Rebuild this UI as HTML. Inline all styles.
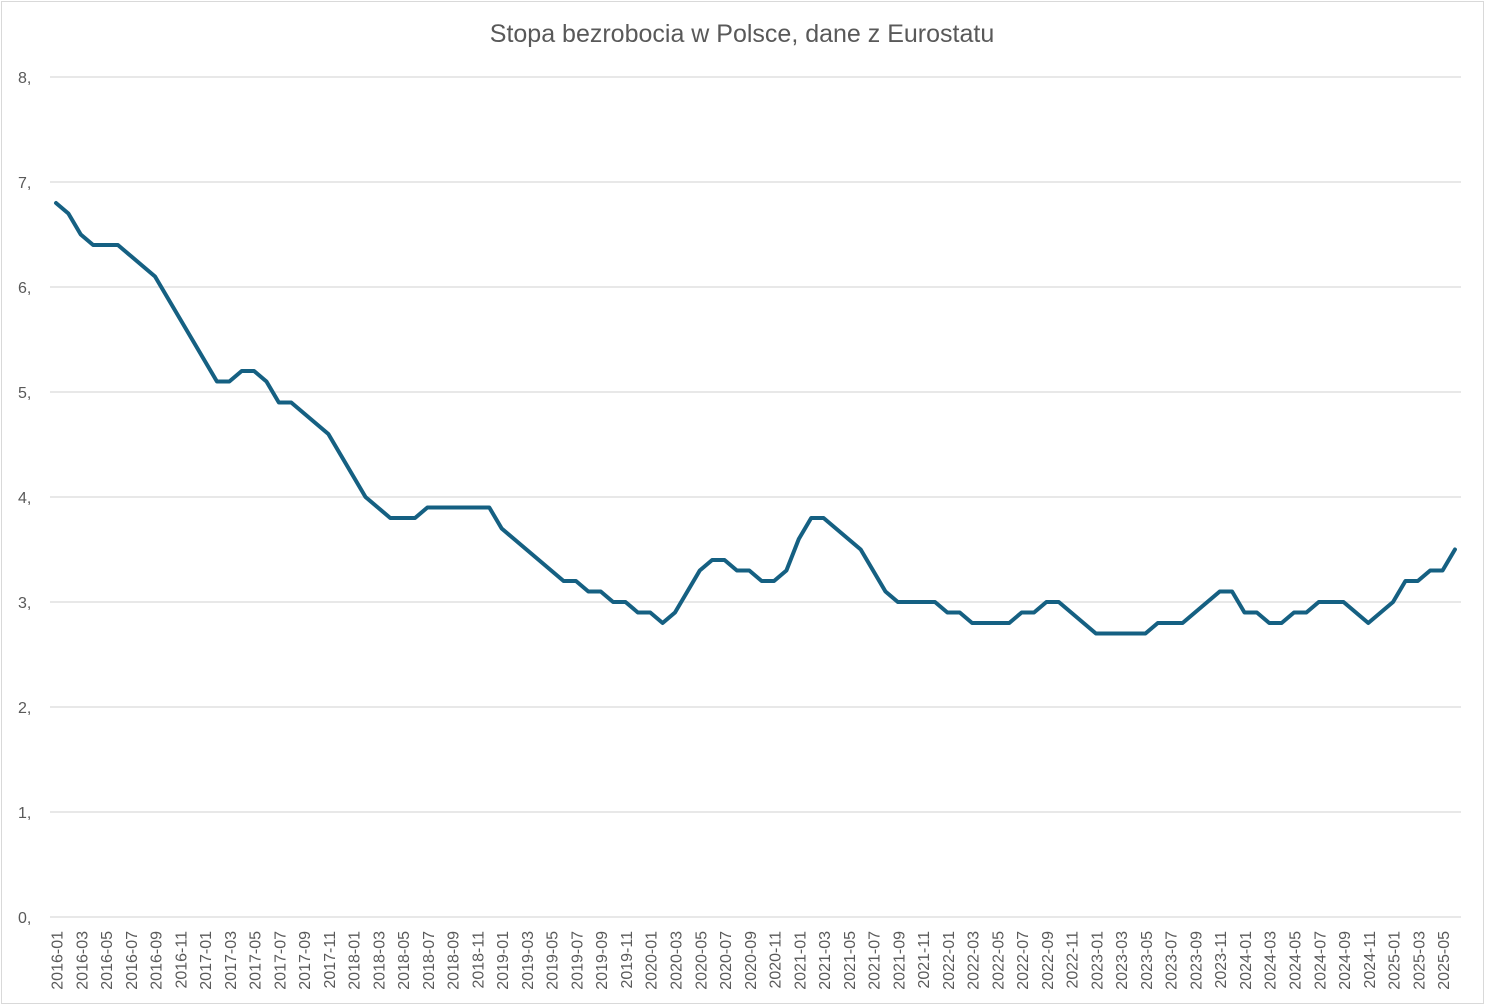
<!DOCTYPE html>
<html><head><meta charset="utf-8"><style>
html,body{margin:0;padding:0;background:#fff}
svg{display:block}
text{font-family:"Liberation Sans",sans-serif;fill:#595959}
</style></head><body>
<svg width="1485" height="1006" viewBox="0 0 1485 1006">
<rect x="1.5" y="1.5" width="1482" height="1002" fill="#fff" stroke="#d9d9d9" stroke-width="1"/>
<text x="742" y="42" font-size="25" text-anchor="middle">Stopa bezrobocia w Polsce, dane z Eurostatu</text>
<g stroke="#d9d9d9" stroke-width="1.3">
<line x1="50" x2="1461" y1="77" y2="77"/><line x1="50" x2="1461" y1="182" y2="182"/>
<line x1="50" x2="1461" y1="287" y2="287"/><line x1="50" x2="1461" y1="392" y2="392"/>
<line x1="50" x2="1461" y1="497" y2="497"/><line x1="50" x2="1461" y1="602" y2="602"/>
<line x1="50" x2="1461" y1="707" y2="707"/><line x1="50" x2="1461" y1="812" y2="812"/>
<line x1="50" x2="1461" y1="917" y2="917"/>
</g>
<g font-size="16">
<text x="18" y="83">8,</text><text x="18" y="188">7,</text><text x="18" y="293">6,</text>
<text x="18" y="398">5,</text><text x="18" y="503">4,</text><text x="18" y="608">3,</text>
<text x="18" y="713">2,</text><text x="18" y="818">1,</text><text x="18" y="923">0,</text>
</g>
<g transform="translate(56,917) scale(12.38,-105)">
<polyline fill="none" stroke="#156082" stroke-width="4" stroke-linejoin="round" stroke-linecap="round" vector-effect="non-scaling-stroke" points="0,6.8 1,6.7 2,6.5 3,6.4 4,6.4 5,6.4 6,6.3 7,6.2 8,6.1 9,5.9 10,5.7 11,5.5 12,5.3 13,5.1 14,5.1 15,5.2 16,5.2 17,5.1 18,4.9 19,4.9 20,4.8 21,4.7 22,4.6 23,4.4 24,4.2 25,4.0 26,3.9 27,3.8 28,3.8 29,3.8 30,3.9 31,3.9 32,3.9 33,3.9 34,3.9 35,3.9 36,3.7 37,3.6 38,3.5 39,3.4 40,3.3 41,3.2 42,3.2 43,3.1 44,3.1 45,3.0 46,3.0 47,2.9 48,2.9 49,2.8 50,2.9 51,3.1 52,3.3 53,3.4 54,3.4 55,3.3 56,3.3 57,3.2 58,3.2 59,3.3 60,3.6 61,3.8 62,3.8 63,3.7 64,3.6 65,3.5 66,3.3 67,3.1 68,3.0 69,3.0 70,3.0 71,3.0 72,2.9 73,2.9 74,2.8 75,2.8 76,2.8 77,2.8 78,2.9 79,2.9 80,3.0 81,3.0 82,2.9 83,2.8 84,2.7 85,2.7 86,2.7 87,2.7 88,2.7 89,2.8 90,2.8 91,2.8 92,2.9 93,3.0 94,3.1 95,3.1 96,2.9 97,2.9 98,2.8 99,2.8 100,2.9 101,2.9 102,3.0 103,3.0 104,3.0 105,2.9 106,2.8 107,2.9 108,3.0 109,3.2 110,3.2 111,3.3 112,3.3 113,3.5"/>
</g>
<g font-size="16" text-anchor="end" transform="translate(62.5,931)">
<text transform="translate(0,0) rotate(-90)">2016-01</text>
<text transform="translate(24.76,0) rotate(-90)">2016-03</text>
<text transform="translate(49.52,0) rotate(-90)">2016-05</text>
<text transform="translate(74.28,0) rotate(-90)">2016-07</text>
<text transform="translate(99.04,0) rotate(-90)">2016-09</text>
<text transform="translate(123.8,0) rotate(-90)">2016-11</text>
<text transform="translate(148.56,0) rotate(-90)">2017-01</text>
<text transform="translate(173.32,0) rotate(-90)">2017-03</text>
<text transform="translate(198.08,0) rotate(-90)">2017-05</text>
<text transform="translate(222.84,0) rotate(-90)">2017-07</text>
<text transform="translate(247.6,0) rotate(-90)">2017-09</text>
<text transform="translate(272.36,0) rotate(-90)">2017-11</text>
<text transform="translate(297.12,0) rotate(-90)">2018-01</text>
<text transform="translate(321.88,0) rotate(-90)">2018-03</text>
<text transform="translate(346.64,0) rotate(-90)">2018-05</text>
<text transform="translate(371.4,0) rotate(-90)">2018-07</text>
<text transform="translate(396.16,0) rotate(-90)">2018-09</text>
<text transform="translate(420.92,0) rotate(-90)">2018-11</text>
<text transform="translate(445.68,0) rotate(-90)">2019-01</text>
<text transform="translate(470.44,0) rotate(-90)">2019-03</text>
<text transform="translate(495.2,0) rotate(-90)">2019-05</text>
<text transform="translate(519.96,0) rotate(-90)">2019-07</text>
<text transform="translate(544.72,0) rotate(-90)">2019-09</text>
<text transform="translate(569.48,0) rotate(-90)">2019-11</text>
<text transform="translate(594.24,0) rotate(-90)">2020-01</text>
<text transform="translate(619,0) rotate(-90)">2020-03</text>
<text transform="translate(643.76,0) rotate(-90)">2020-05</text>
<text transform="translate(668.52,0) rotate(-90)">2020-07</text>
<text transform="translate(693.28,0) rotate(-90)">2020-09</text>
<text transform="translate(718.04,0) rotate(-90)">2020-11</text>
<text transform="translate(742.8,0) rotate(-90)">2021-01</text>
<text transform="translate(767.56,0) rotate(-90)">2021-03</text>
<text transform="translate(792.32,0) rotate(-90)">2021-05</text>
<text transform="translate(817.08,0) rotate(-90)">2021-07</text>
<text transform="translate(841.84,0) rotate(-90)">2021-09</text>
<text transform="translate(866.6,0) rotate(-90)">2021-11</text>
<text transform="translate(891.36,0) rotate(-90)">2022-01</text>
<text transform="translate(916.12,0) rotate(-90)">2022-03</text>
<text transform="translate(940.88,0) rotate(-90)">2022-05</text>
<text transform="translate(965.64,0) rotate(-90)">2022-07</text>
<text transform="translate(990.4,0) rotate(-90)">2022-09</text>
<text transform="translate(1015.16,0) rotate(-90)">2022-11</text>
<text transform="translate(1039.92,0) rotate(-90)">2023-01</text>
<text transform="translate(1064.68,0) rotate(-90)">2023-03</text>
<text transform="translate(1089.44,0) rotate(-90)">2023-05</text>
<text transform="translate(1114.2,0) rotate(-90)">2023-07</text>
<text transform="translate(1138.96,0) rotate(-90)">2023-09</text>
<text transform="translate(1163.72,0) rotate(-90)">2023-11</text>
<text transform="translate(1188.48,0) rotate(-90)">2024-01</text>
<text transform="translate(1213.24,0) rotate(-90)">2024-03</text>
<text transform="translate(1238,0) rotate(-90)">2024-05</text>
<text transform="translate(1262.76,0) rotate(-90)">2024-07</text>
<text transform="translate(1287.52,0) rotate(-90)">2024-09</text>
<text transform="translate(1312.28,0) rotate(-90)">2024-11</text>
<text transform="translate(1337.04,0) rotate(-90)">2025-01</text>
<text transform="translate(1361.8,0) rotate(-90)">2025-03</text>
<text transform="translate(1386.56,0) rotate(-90)">2025-05</text>
</g>
</svg>
</body></html>
